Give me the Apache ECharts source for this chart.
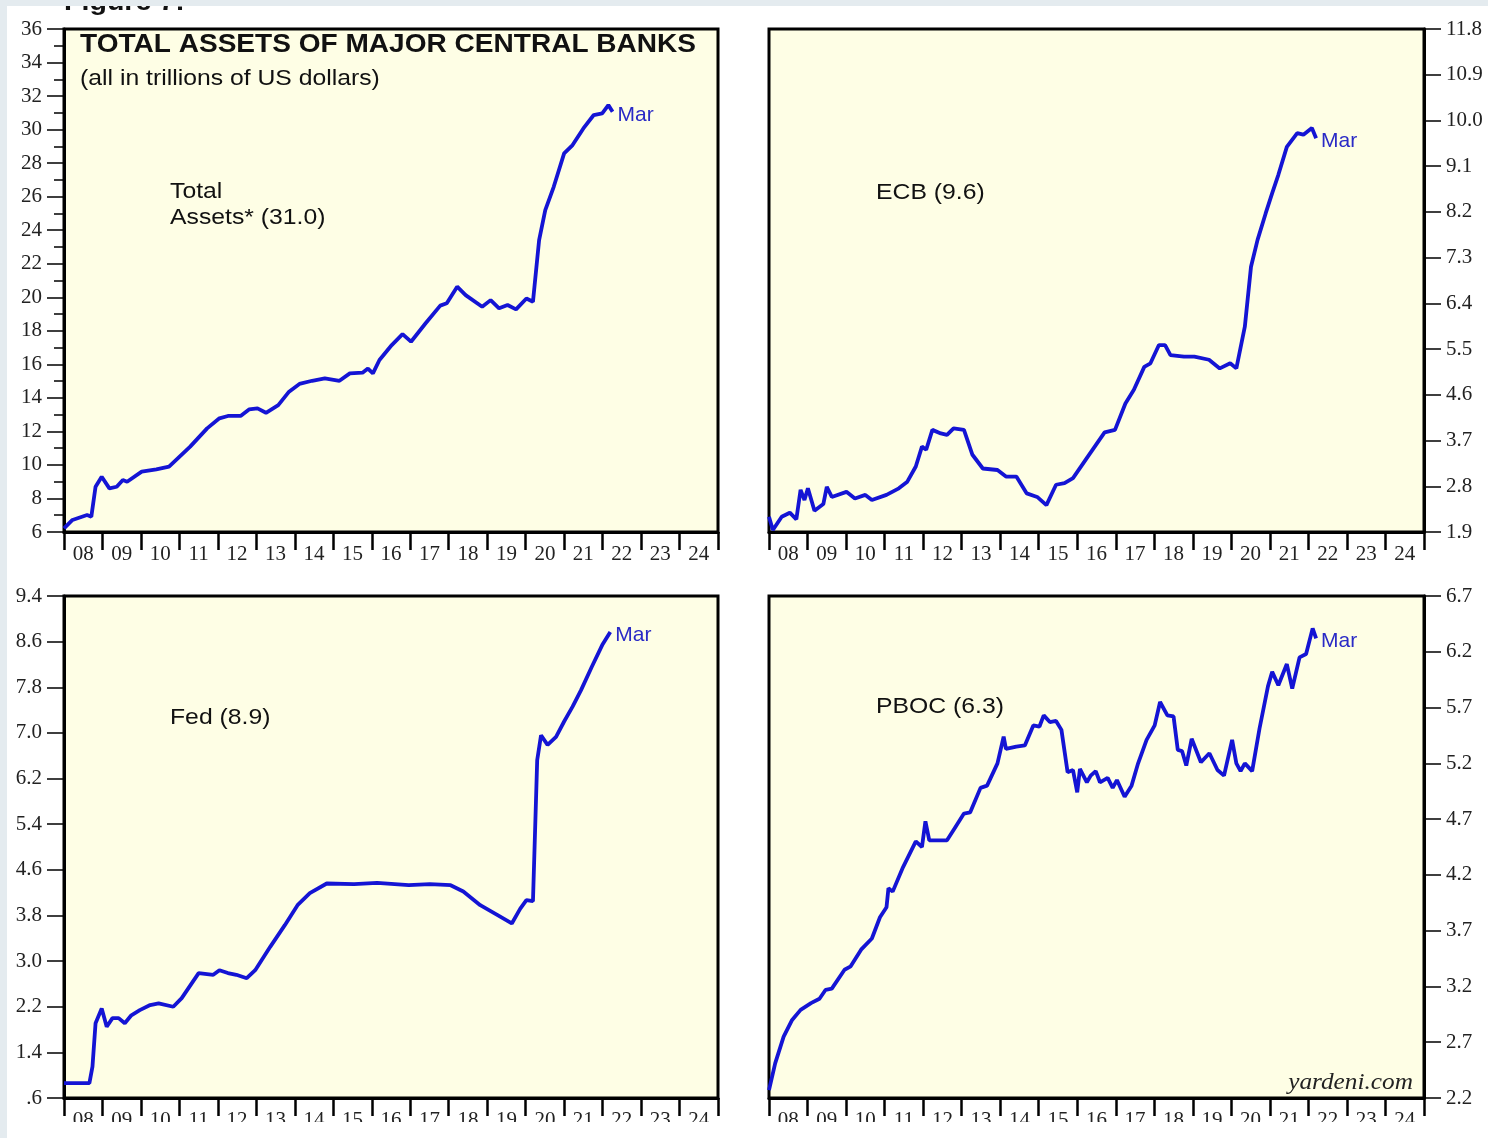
<!DOCTYPE html>
<html>
<head>
<meta charset="utf-8">
<title>Total assets of major central banks</title>
<script src="https://cdn.jsdelivr.net/npm/echarts@6/dist/echarts.min.js"></script>
<style>
  html, body { margin: 0; padding: 0; background: #fff; }
  #chart { width: 1488px; height: 1138px; }
</style>
</head>
<body>
<div id="chart"></div>
<script>
  // year labels under every panel, one per year slot
  var yearLabels = ['08', '09', '10', '11', '12', '13', '14', '15', '16', '17', '18', '19', '20', '21', '22', '23', '24']

  // total assets, trillions of US dollars
  var totalYears = [2008.0, 2008.22, 2008.6, 2008.71, 2008.82, 2008.98, 2009.18, 2009.37, 2009.53, 2009.64,
    2010.02, 2010.4, 2010.73, 2011.28, 2011.72, 2012.04, 2012.26, 2012.59, 2012.81, 2013.03,
    2013.25, 2013.57, 2013.85, 2014.12, 2014.45, 2014.78, 2015.16, 2015.43, 2015.76, 2015.9,
    2016.03, 2016.2, 2016.52, 2016.8, 2017.02, 2017.4, 2017.78, 2017.95, 2018.22, 2018.44,
    2018.87, 2019.09, 2019.31, 2019.53, 2019.75, 2020.02, 2020.19, 2020.35, 2020.51, 2020.73,
    2021.0, 2021.22, 2021.5, 2021.77, 2021.99, 2022.15, 2022.26]
  var totalValues = [6.22, 6.72, 7.01, 6.91, 8.70, 9.30, 8.60, 8.70, 9.10, 9.00,
    9.60, 9.74, 9.90, 11.09, 12.18, 12.78, 12.92, 12.92, 13.31, 13.37,
    13.11, 13.57, 14.37, 14.83, 15.02, 15.16, 15.02, 15.46, 15.50, 15.75,
    15.46, 16.26, 17.15, 17.80, 17.35, 18.45, 19.50, 19.64, 20.63, 20.13,
    19.43, 19.83, 19.34, 19.54, 19.28, 19.93, 19.73, 23.41, 25.20, 26.59,
    28.58, 29.08, 30.07, 30.87, 30.97, 31.46, 31.06]

  var ecbYears = [2008.0, 2008.1, 2008.33, 2008.54, 2008.71, 2008.82, 2008.92, 2009.01, 2009.18, 2009.41,
    2009.5, 2009.63, 2010.01, 2010.23, 2010.5, 2010.67, 2011.05, 2011.37, 2011.59, 2011.81,
    2011.97, 2012.08, 2012.24, 2012.46, 2012.62, 2012.79, 2013.06, 2013.28, 2013.55, 2013.93,
    2014.15, 2014.42, 2014.69, 2014.96, 2015.2, 2015.45, 2015.67, 2015.89, 2016.27, 2016.71,
    2016.98, 2017.25, 2017.47, 2017.74, 2017.9, 2018.12, 2018.28, 2018.42, 2018.77, 2019.04,
    2019.42, 2019.7, 2019.97, 2020.13, 2020.35, 2020.51, 2020.68, 2020.89, 2021.06, 2021.22,
    2021.44, 2021.71, 2021.87, 2022.09, 2022.2]
  var ecbValues = [2.20, 1.94, 2.20, 2.28, 2.15, 2.73, 2.53, 2.76, 2.32, 2.45,
    2.79, 2.59, 2.69, 2.56, 2.63, 2.53, 2.63, 2.76, 2.89, 3.19,
    3.58, 3.52, 3.91, 3.84, 3.81, 3.94, 3.91, 3.42, 3.15, 3.12,
    2.99, 2.99, 2.66, 2.59, 2.43, 2.83, 2.86, 2.96, 3.38, 3.86,
    3.91, 4.43, 4.70, 5.15, 5.22, 5.58, 5.58, 5.38, 5.35, 5.35,
    5.29, 5.12, 5.22, 5.12, 5.94, 7.12, 7.65, 8.17, 8.57, 8.93,
    9.48, 9.75, 9.72, 9.85, 9.65]

  var fedYears = [2008.0, 2008.66, 2008.74, 2008.82, 2008.98, 2009.11, 2009.26, 2009.42, 2009.58, 2009.75,
    2009.97, 2010.24, 2010.46, 2010.84, 2011.06, 2011.5, 2011.88, 2012.04, 2012.26, 2012.48,
    2012.75, 2012.97, 2013.36, 2013.74, 2014.07, 2014.39, 2014.83, 2015.54, 2016.14, 2016.96,
    2017.51, 2018.05, 2018.38, 2018.82, 2019.26, 2019.64, 2019.86, 2020.02, 2020.19, 2020.3,
    2020.4, 2020.57, 2020.79, 2021.0, 2021.22, 2021.44, 2021.72, 2021.99, 2022.2]
  var fedValues = [0.86, 0.86, 1.15, 1.91, 2.17, 1.85, 2.00, 2.00, 1.91, 2.05,
    2.14, 2.23, 2.26, 2.20, 2.35, 2.79, 2.76, 2.84, 2.79, 2.76,
    2.70, 2.84, 3.25, 3.63, 3.98, 4.19, 4.36, 4.35, 4.37, 4.33,
    4.35, 4.33, 4.22, 3.98, 3.81, 3.66, 3.92, 4.07, 4.05, 6.52,
    6.96, 6.79, 6.93, 7.20, 7.46, 7.75, 8.16, 8.54, 8.77]

  var pbocYears = [2008.0, 2008.16, 2008.38, 2008.6, 2008.82, 2009.09, 2009.31, 2009.47, 2009.63, 2009.96,
    2010.12, 2010.39, 2010.67, 2010.88, 2011.05, 2011.1, 2011.21, 2011.48, 2011.81, 2011.97,
    2012.06, 2012.16, 2012.46, 2012.62, 2012.84, 2013.06, 2013.22, 2013.49, 2013.66, 2013.93,
    2014.09, 2014.15, 2014.42, 2014.64, 2014.86, 2015.02, 2015.13, 2015.29, 2015.45, 2015.59,
    2015.75, 2015.89, 2016.0, 2016.07, 2016.25, 2016.35, 2016.48, 2016.59, 2016.79, 2016.92,
    2017.03, 2017.23, 2017.41, 2017.58, 2017.8, 2018.01, 2018.15, 2018.34, 2018.5, 2018.61,
    2018.72, 2018.83, 2018.97, 2019.21, 2019.43, 2019.64, 2019.81, 2020.02, 2020.13, 2020.24,
    2020.35, 2020.54, 2020.73, 2020.95, 2021.06, 2021.22, 2021.44, 2021.58, 2021.77, 2021.94,
    2022.11, 2022.2]
  var pbocValues = [2.27, 2.51, 2.75, 2.90, 2.99, 3.05, 3.09, 3.17, 3.18, 3.35,
    3.38, 3.53, 3.63, 3.82, 3.91, 4.08, 4.05, 4.27, 4.50, 4.45,
    4.68, 4.51, 4.51, 4.51, 4.63, 4.75, 4.76, 4.98, 5.00, 5.20,
    5.44, 5.33, 5.35, 5.36, 5.54, 5.53, 5.63, 5.57, 5.58, 5.50,
    5.12, 5.14, 4.94, 5.15, 5.03, 5.09, 5.13, 5.03, 5.07, 4.98,
    5.05, 4.90, 5.00, 5.20, 5.41, 5.54, 5.75, 5.63, 5.62, 5.32,
    5.31, 5.18, 5.42, 5.21, 5.29, 5.14, 5.09, 5.41, 5.20, 5.13,
    5.20, 5.13, 5.51, 5.89, 6.02, 5.90, 6.09, 5.87, 6.15, 6.18,
    6.41, 6.32]

  // y tick labels
  var ecbTicks = [1.9, 2.8, 3.7, 4.6, 5.5, 6.4, 7.3, 8.2, 9.1, 10.0, 10.9, 11.8]
  var fedTicks = [0.6, 1.4, 2.2, 3.0, 3.8, 4.6, 5.4, 6.2, 7.0, 7.8, 8.6, 9.4]
  var pbocTicks = [2.2, 2.7, 3.2, 3.7, 4.2, 4.7, 5.2, 5.7, 6.2, 6.7]

  var lineBlue = '#1414d4'
  var serif = 'Liberation Serif'
  var sans = 'Liberation Sans'

  function pairs(xs, ys) {
    return xs.map(function (x, i) { return [x, ys[i]] })
  }

  var panels = [
    { grid: { left: 64, top: 29, width: 654, height: 503 }, side: 'left', min: 6, max: 36, interval: 2, data: pairs(totalYears, totalValues) },
    { grid: { left: 769, top: 29, width: 655, height: 503 }, side: 'right', ticks: ecbTicks, data: pairs(ecbYears, ecbValues) },
    { grid: { left: 64, top: 596, width: 654, height: 502 }, side: 'left', ticks: fedTicks, data: pairs(fedYears, fedValues) },
    { grid: { left: 769, top: 596, width: 655, height: 502 }, side: 'right', ticks: pbocTicks, data: pairs(pbocYears, pbocValues) }
  ]

  var grids = [], xAxes = [], yAxes = [], series = []

  panels.forEach(function (p, i) {
    grids.push(Object.assign({
      show: true,
      backgroundColor: '#fefee5',
      borderColor: '#000',
      borderWidth: 3
    }, p.grid))

    // year slots with ticks on the boundaries
    xAxes.push({
      type: 'category',
      gridIndex: i,
      position: 'bottom',
      data: yearLabels,
      boundaryGap: true,
      axisLine: { lineStyle: { color: '#000', width: 3 } },
      axisTick: { show: true, interval: 0, length: 18, lineStyle: { color: '#000', width: 2.5 } },
      axisLabel: { interval: 0, margin: 12, fontFamily: serif, fontSize: 21, color: '#222' },
      splitLine: { show: false }
    })
    // time scale the lines are drawn on
    xAxes.push({
      type: 'value',
      gridIndex: i,
      position: 'bottom',
      min: 2008,
      max: 2025,
      show: false
    })

    var y = {
      type: 'value',
      gridIndex: i,
      position: p.side,
      axisLine: { show: true, lineStyle: { color: '#000', width: 3 } },
      axisTick: { show: true, length: 17, lineStyle: { color: '#000', width: 1.5 } },
      axisLabel: { margin: 22, fontFamily: serif, fontSize: 21, color: '#222' },
      splitLine: { show: false }
    }
    if (p.ticks) {
      y.min = p.ticks[0]
      y.max = p.ticks[p.ticks.length - 1]
      y.axisTick.customValues = p.ticks
      y.axisLabel.customValues = p.ticks
      y.axisLabel.formatter = function (v) {
        return v.toFixed(1).replace(/^0\./, '.')
      }
    } else {
      y.min = p.min
      y.max = p.max
      y.interval = p.interval
      y.minorTick = { show: true, splitNumber: 2, length: 10, lineStyle: { color: '#000', width: 1.5 } }
    }
    yAxes.push(y)

    series.push({
      type: 'line',
      xAxisIndex: i * 2 + 1,
      yAxisIndex: i,
      data: p.data,
      showSymbol: false,
      silent: true,
      lineStyle: { color: lineBlue, width: 3.8 },
      endLabel: {
        show: true,
        formatter: 'Mar',
        color: '#2a2ac6',
        fontFamily: sans,
        fontSize: 21,
        distance: 5,
        offset: [0, 3]
      }
    })
  })

  function note(text, x, y, size, extra) {
    return Object.assign({
      type: 'text',
      x: x,
      y: y,
      scaleX: 1.1,
      z: 50,
      style: {
        text: text,
        fontFamily: sans,
        fontSize: size,
        fill: '#111',
        align: 'left',
        verticalAlign: 'top',
        lineHeight: 26
      }
    }, extra || {})
  }

  var chart = echarts.init(document.getElementById('chart'))
  chart.setOption({
    animation: false,
    grid: grids,
    xAxis: xAxes,
    yAxis: yAxes,
    series: series,
    graphic: [
      note('Figure 7:', 64, -10, 26, { style: { text: 'Figure 7:', fontFamily: sans, fontSize: 26, fontWeight: 'bold', fill: '#111', align: 'left', verticalAlign: 'top' }, z: 40 }),
      note('TOTAL ASSETS OF MAJOR CENTRAL BANKS', 80, 32, 25.5, { style: { text: 'TOTAL ASSETS OF MAJOR CENTRAL BANKS', fontFamily: sans, fontSize: 25.5, fontWeight: 'bold', fill: '#111', align: 'left', verticalAlign: 'top' } }),
      note('(all in trillions of US dollars)', 80, 66, 22.5),
      note('Total\nAssets* (31.0)', 170, 179, 22.5),
      note('ECB (9.6)', 876, 180, 22.5),
      note('Fed (8.9)', 170, 705, 22.5),
      note('PBOC (6.3)', 876, 694, 22.5),
      {
        type: 'text',
        x: 1413,
        y: 1083,
        scaleX: 1.1,
        z: 50,
        style: {
          text: 'yardeni.com',
          fontFamily: serif,
          fontStyle: 'italic',
          fontSize: 23,
          fill: '#222',
          align: 'right',
          verticalAlign: 'middle'
        }
      },
      // page edges of the original screenshot
      { type: 'rect', z: 100, shape: { x: 0, y: 0, width: 1488, height: 6 }, style: { fill: '#e4ebef' } },
      { type: 'rect', z: 100, shape: { x: 0, y: 0, width: 7, height: 1138 }, style: { fill: '#e4ebef' } },
      { type: 'rect', z: 100, shape: { x: 7, y: 1122, width: 1481, height: 16 }, style: { fill: '#ffffff' } }
    ]
  })
</script>
</body>
</html>
